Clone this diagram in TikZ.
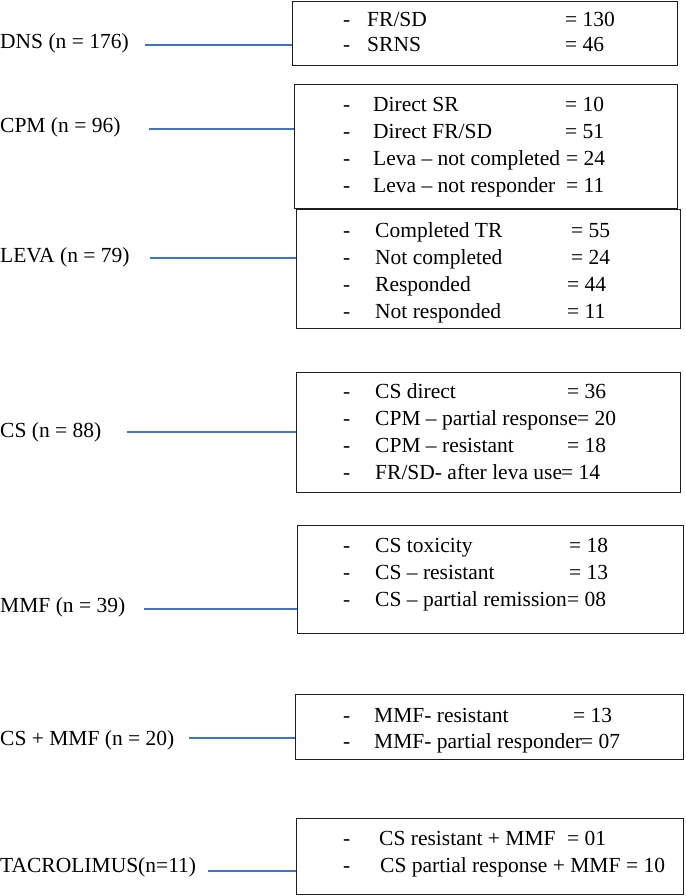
\documentclass[tikz,border=0pt]{standalone}
\usepackage{fontspec}
\setmainfont{Liberation Serif}
\usepackage{tikz}
\definecolor{LinkBlue}{RGB}{68, 114, 196}
\definecolor{BoxBlack}{RGB}{30, 30, 30}
\tikzset{
    grouplabel/.style={anchor=base west, inner sep=0pt, font=\fontsize{21.5}{26}\selectfont},
    itemtext/.style={anchor=base west, inner sep=0pt, font=\fontsize{21.5}{26}\selectfont},
    listbox/.style={draw=BoxBlack, line width=1.2pt, anchor=north west, inner sep=0pt},
    link/.style={draw=LinkBlue, line width=1.1pt}
}
\newcommand{\boxrows}[4]{%
    \foreach \txt/\tx/\val/\vx [count=\i from 0] in {#4} {
        \node[itemtext] (#1-d\i) at (343, {#2+#3*\i}) {-};
        \node[itemtext] (#1-t\i) at (\tx, {#2+#3*\i}) {\txt};
        \node[itemtext] (#1-v\i) at (\vx, {#2+#3*\i}) {\val};
    }
}

\begin{document}
\begin{tikzpicture}[x=1pt, y=-1pt]
            \useasboundingbox (0,0) rectangle (685,896);

            \node[listbox, minimum width=385, minimum height=64] (dnsbox) at (292,1) {};
            \node[listbox, minimum width=383, minimum height=124] (cpmbox) at (294,84) {};
            \node[listbox, minimum width=384, minimum height=119] (levabox) at (296,209) {};
            \node[listbox, minimum width=384, minimum height=120] (csbox) at (296,372) {};
            \node[listbox, minimum width=386, minimum height=108] (mmfbox) at (297,525) {};
            \node[listbox, minimum width=388, minimum height=65] (csmmfbox) at (295,694) {};
            \node[listbox, minimum width=387, minimum height=76] (tacbox) at (296,818) {};

            \node[grouplabel] (dns) at (0,48.5) {DNS (n = 176)};
            \node[grouplabel] (cpm) at (0,133) {CPM (n = 96)};
            \node[grouplabel] (leva) at (0,262) {LEVA (n = 79)};
            \node[grouplabel] (cs) at (0,437) {CS (n = 88)};
            \node[grouplabel] (mmf) at (0,612) {MMF (n = 39)};
            \node[grouplabel] (csmmf) at (0,745) {CS + MMF (n = 20)};
            \node[grouplabel] (tac) at (0,872) {TACROLIMUS(n=11)};

            \coordinate (dnsA) at (145,45);
            \coordinate (cpmA) at (149,129);
            \coordinate (levaA) at (150,258);
            \coordinate (csA) at (127,432);
            \coordinate (mmfA) at (144,609);
            \coordinate (csmmfA) at (189,738);
            \coordinate (tacA) at (208,871);
            \draw[link] (dnsA) -- (dnsA -| dnsbox.west);
            \draw[link] (cpmA) -- (cpmA -| cpmbox.west);
            \draw[link] (levaA) -- (levaA -| levabox.west);
            \draw[link] (csA) -- (csA -| csbox.west);
            \draw[link] (mmfA) -- (mmfA -| mmfbox.west);
            \draw[link] (csmmfA) -- (csmmfA -| csmmfbox.west);
            \draw[link] (tacA) -- (tacA -| tacbox.west);

            \boxrows{dns}{27}{25}{{FR/SD}/367/{= 130}/565, SRNS/367/{= 46}/565}
            \boxrows{cpm}{112}{27}{{Direct SR}/373/{= 10}/565, {Direct FR/SD}/373/{= 51}/565,
                {Leva – not completed}/373/{= 24}/566, {Leva – not responder}/373/{= 11}/566}
            \boxrows{leva}{237}{27}{{Completed TR}/375/{= 55}/571, {Not completed}/375/{= 24}/571,
                Responded/375/{= 44}/567, {Not responded}/375/{= 11}/567}
            \boxrows{cs}{398}{27.3}{{CS direct}/375/{= 36}/567, {CPM – partial response}/375/{= 20}/577,
                {CPM – resistant}/375/{= 18}/567, {FR/SD- after leva use}/375/{= 14}/561}
            \boxrows{mmf}{552}{27}{{CS toxicity}/375/{= 18}/569, {CS – resistant}/375/{= 13}/569,
                {CS – partial remission}/375/{= 08}/567}
            \boxrows{csmmf}{722}{26}{{MMF- resistant}/374/{= 13}/573, {MMF- partial responder}/374/{= 07}/581}
            \boxrows{tac}{845}{27}{{CS resistant + MMF}/379/{= 01}/567, {CS partial response + MMF}/380/{= 10}/626}
        \end{tikzpicture}
\end{document}
